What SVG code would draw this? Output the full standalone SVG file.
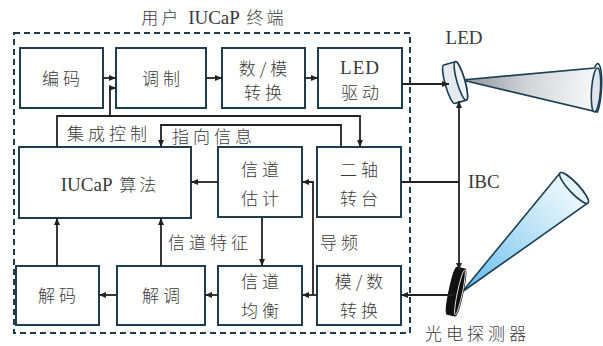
<svg xmlns="http://www.w3.org/2000/svg" width="603" height="346" viewBox="0 0 603 346">
  <defs>
    <marker id="arr" markerUnits="userSpaceOnUse" markerWidth="8" markerHeight="6" refX="7" refY="3" orient="auto">
      <path d="M0 0 L7 3 L0 6 Z" fill="#222"/>
    </marker>
    <linearGradient id="beamGray" x1="462" y1="80" x2="596" y2="90" gradientUnits="userSpaceOnUse">
      <stop offset="0" stop-color="#8d9297"/>
      <stop offset="0.5" stop-color="#d3d6d9"/>
      <stop offset="1" stop-color="#f7f8f9"/>
    </linearGradient>
    <linearGradient id="beamBlue" x1="462" y1="292" x2="574" y2="188" gradientUnits="userSpaceOnUse">
      <stop offset="0" stop-color="#5fbbec"/>
      <stop offset="0.55" stop-color="#b4dff5"/>
      <stop offset="1" stop-color="#eef8fd"/>
    </linearGradient>
    <style>
      .box { fill: #fff; stroke: #1e3d4f; stroke-width: 2; }
      .cn { font-family: "Noto Sans CJK SC", sans-serif; font-weight: 300; font-size: 17px; fill: #3a3a3a; text-anchor: middle; letter-spacing: 4px; }
      .lat { font-family: "Liberation Serif", serif; font-size: 19px; fill: #3a3a3a; }
      .mid { text-anchor: middle; }
      .mix { font-size: 17px; fill: #3a3a3a; text-anchor: middle; }
      .ser { font-family: "Liberation Serif", serif; font-size: 19px; }
      .han { font-family: "Noto Sans CJK SC", sans-serif; font-weight: 300; letter-spacing: 3px; }
      .wire { fill: none; stroke: #222; stroke-width: 1.8; }
      .lbl { font-family: "Noto Sans CJK SC", sans-serif; font-weight: 300; font-size: 17px; fill: #3a3a3a; letter-spacing: 4px; }
      .optic { stroke: #1b3f55; stroke-width: 1.6; }
    </style>
  </defs>

  <!-- terminal frame -->
  <rect x="14" y="33" width="396" height="300" fill="none" stroke="#1e3d4f" stroke-width="2" stroke-dasharray="6 4"/>
  <text class="mix" x="214" y="24"><tspan class="han">用户 </tspan><tspan class="ser">IUCaP</tspan><tspan class="han"> 终端</tspan></text>

  <!-- top row -->
  <g id="encode">
    <rect class="box" x="20" y="48" width="83" height="60"/>
    <text class="cn" x="63" y="85">编码</text>
  </g>
  <g id="modulate">
    <rect class="box" x="116" y="48" width="90" height="60"/>
    <text class="cn" x="163" y="85">调制</text>
  </g>
  <g id="dac">
    <rect class="box" x="222" y="48" width="83" height="60"/>
    <text class="cn" x="265" y="75">数/模</text>
    <text class="cn" x="265" y="99">转换</text>
  </g>
  <g id="led-driver">
    <rect class="box" x="318" y="48" width="84" height="60"/>
    <text class="lat mid" x="360" y="74" style="letter-spacing:1px">LED</text>
    <text class="cn" x="362" y="99">驱动</text>
  </g>

  <!-- middle row -->
  <g id="iucap">
    <rect class="box" x="19" y="147" width="172" height="71"/>
    <text class="mix" x="110" y="191"><tspan class="ser">IUCaP</tspan><tspan class="han"> 算法</tspan></text>
  </g>
  <g id="ch-est">
    <rect class="box" x="218" y="147" width="84" height="70"/>
    <text class="cn" x="262" y="176">信道</text>
    <text class="cn" x="262" y="205">估计</text>
  </g>
  <g id="gimbal">
    <rect class="box" x="317" y="147" width="84" height="70"/>
    <text class="cn" x="361" y="176">二轴</text>
    <text class="cn" x="361" y="205">转台</text>
  </g>

  <!-- bottom row -->
  <g id="decode">
    <rect class="box" x="16" y="266" width="83" height="59"/>
    <text class="cn" x="59" y="302">解码</text>
  </g>
  <g id="demod">
    <rect class="box" x="117" y="266" width="88" height="59"/>
    <text class="cn" x="163" y="302">解调</text>
  </g>
  <g id="ch-eq">
    <rect class="box" x="218" y="266" width="84" height="59"/>
    <text class="cn" x="262" y="288">信道</text>
    <text class="cn" x="262" y="317">均衡</text>
  </g>
  <g id="adc">
    <rect class="box" x="317" y="266" width="84" height="59"/>
    <text class="cn" x="361" y="288">模/数</text>
    <text class="cn" x="361" y="317">转换</text>
  </g>

  <!-- LED transmitter with gray beam -->
  <g id="led">
    <path class="optic" d="M462 80 L594.5 68 A4.5 22 4 0 1 597.5 112 Z" fill="url(#beamGray)"/>
    <ellipse class="optic" cx="596" cy="90" rx="4.5" ry="22" transform="rotate(4 596 90)" fill="#dfe5ea"/>
    <g transform="translate(457 82) rotate(-16)">
      <path class="optic" d="M-8 -20 L4 -20 A4 20 0 0 1 4 20 L-8 20 A4 20 0 0 1 -8 -20 Z" fill="#e4eaee"/>
      <ellipse class="optic" cx="4" cy="0" rx="4" ry="20" fill="#eef2f5"/>
    </g>
    <text class="lat mid" x="464" y="44">LED</text>
  </g>

  <!-- photodetector with blue field of view -->
  <g id="detector">
    <path class="optic" d="M462 292 L560 173 A5 20.5 -43 0 1 588 203 Z" fill="url(#beamBlue)"/>
    <ellipse class="optic" cx="574" cy="188" rx="5" ry="20.5" transform="rotate(-43 574 188)" fill="#e6f5fc"/>
    <g transform="translate(458 292) rotate(12)">
      <path d="M-6 -24 L2 -24 A3 24 0 0 1 2 24 L-6 24 A3 24 0 0 1 -6 -24 Z" fill="#111" stroke="#111" stroke-width="1"/>
      <ellipse cx="2" cy="0" rx="2.5" ry="23" fill="none" stroke="#fff" stroke-width="0.8"/>
    </g>
    <text class="lbl" x="425" y="340">光电探测器</text>
  </g>

  <!-- connectors -->
  <g id="connectors">
    <path class="wire" d="M103 78 H116" marker-end="url(#arr)"/>
    <path class="wire" d="M206 78 H222" marker-end="url(#arr)"/>
    <path class="wire" d="M305 78 H318" marker-end="url(#arr)"/>
    <path class="wire" d="M402 84 H449" marker-end="url(#arr)"/>
    <path class="wire" d="M57 147 V116 H360 V147" marker-end="url(#arr)"/>
    <path class="wire" d="M110 116 V88 H116" marker-end="url(#arr)"/>
    <path class="wire" d="M341 147 V125 H161 V147" marker-end="url(#arr)"/>
    <path class="wire" d="M218 182 H191" marker-end="url(#arr)"/>
    <path class="wire" d="M401 182 H459"/>
    <path class="wire" d="M459 182 V101" marker-end="url(#arr)"/>
    <path class="wire" d="M459 182 V270" marker-end="url(#arr)"/>
    <path class="wire" d="M262 217 V266" marker-end="url(#arr)"/>
    <path class="wire" d="M317 295 H302" marker-end="url(#arr)"/>
    <path class="wire" d="M313 295 V182 H302" marker-end="url(#arr)"/>
    <path class="wire" d="M218 295 H205" marker-end="url(#arr)"/>
    <path class="wire" d="M117 295 H99" marker-end="url(#arr)"/>
    <path class="wire" d="M57 266 V218" marker-end="url(#arr)"/>
    <path class="wire" d="M161 266 V218" marker-end="url(#arr)"/>
    <path class="wire" d="M453 295 H401" marker-end="url(#arr)"/>
  </g>

  <!-- connector labels -->
  <text class="lbl" x="67" y="140">集成控制</text>
  <text class="lbl" x="172" y="143">指向信息</text>
  <text class="lbl" x="168" y="249">信道特征</text>
  <text class="lbl" x="320" y="249">导频</text>
  <text class="lat" x="468" y="188">IBC</text>
</svg>
